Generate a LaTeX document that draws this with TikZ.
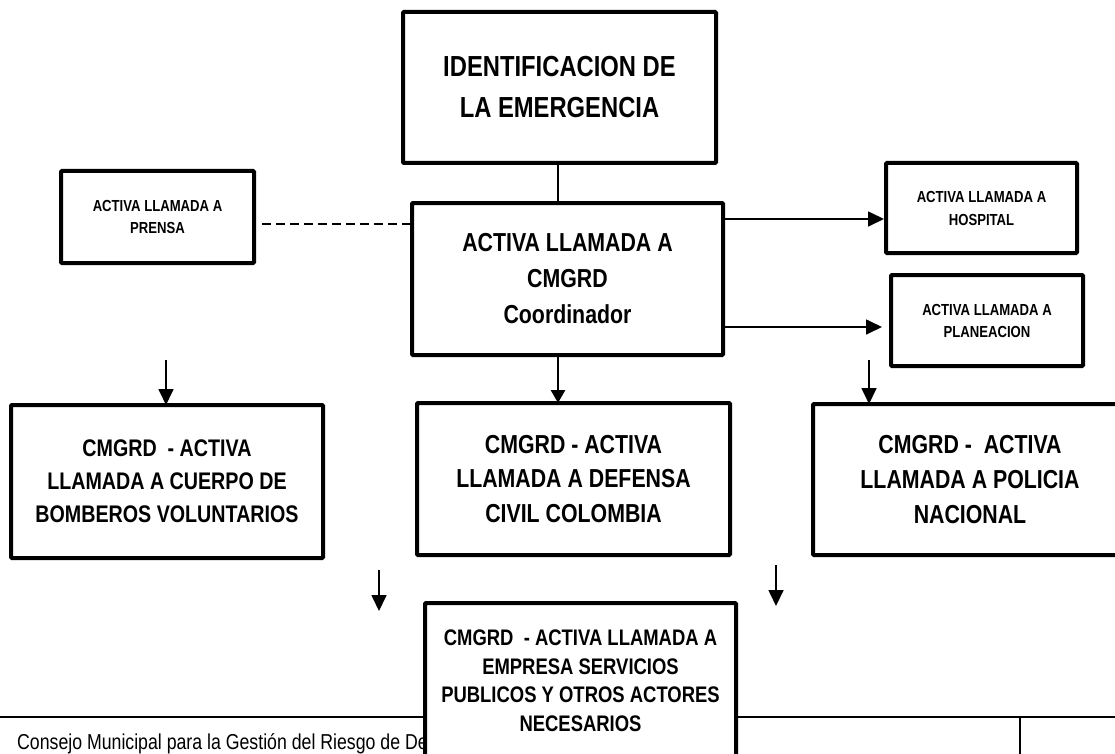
\documentclass[tikz,border=0pt]{standalone}
\usepackage{fontspec}
\setmainfont{Liberation Sans}[FakeStretch=0.82]
\usetikzlibrary{arrows.meta}
\tikzset{
  box/.style={draw=black, line width=4pt, rounded corners=1pt, fill=white, inner sep=0pt, outer sep=0pt, align=center, font=\bfseries},
  conn/.style={draw=black, line width=1.7pt},
  arr/.style={conn, -{Triangle[length=16pt,width=15pt]}},
  arrthick/.style={draw=black, line width=2.8pt, -{Triangle[length=13pt,width=14pt]}},
  dashline/.style={conn, dash pattern=on 9pt off 5pt},
  footline/.style={draw=black, line width=1.6pt}
}
\begin{document}
\begin{tikzpicture}[x=1pt,y=-1pt]
\useasboundingbox (0,0) rectangle (1115,754);
\fill[white] (0,0) rectangle (1115,754);
\clip (0,0) rectangle (1115,754);

% footer
\node[anchor=base west, inner sep=0pt, font=\fontsize{21.6}{24}\selectfont] (foot) at (17,749) {Consejo Municipal para la Gestión del Riesgo de De};
\draw[footline] (0,717) coordinate (fl) -- (1115,717) coordinate (fr);
\coordinate (fv) at (1020,717);
\draw[footline] (fv) -- (fv |- 0,760);

% boxes
\node[box, minimum width=313pt, minimum height=151pt, font=\bfseries\fontsize{29}{41}\selectfont] (ident) at (559.5,87.5) {IDENTIFICACION DE\\LA EMERGENCIA};
\node[box, minimum width=311pt, minimum height=152pt, font=\bfseries\fontsize{26}{36}\selectfont] (coord) at (567.5,279) {ACTIVA LLAMADA A\\CMGRD\\Coordinador};
\node[box, minimum width=193pt, minimum height=92pt, font=\bfseries\fontsize{16}{22}\selectfont] (prensa) at (157.5,217) {ACTIVA LLAMADA A\\PRENSA};
\node[box, minimum width=191pt, minimum height=90pt, font=\bfseries\fontsize{16}{23}\selectfont] (hospital) at (981.5,208) {ACTIVA LLAMADA A\\HOSPITAL};
\node[box, minimum width=192pt, minimum height=91pt, font=\bfseries\fontsize{16}{22}\selectfont] (planeacion) at (987,320.5) {ACTIVA LLAMADA A\\PLANEACION};
\node[box, minimum width=312pt, minimum height=153pt, font=\bfseries\fontsize{24}{33}\selectfont] (bomberos) at (167,481.5) {CMGRD\ \ - ACTIVA\\LLAMADA A CUERPO DE\\BOMBEROS VOLUNTARIOS};
\node[box, minimum width=313pt, minimum height=152pt, font=\bfseries\fontsize{26}{34.5}\selectfont] (defensa) at (573.5,479) {CMGRD - ACTIVA\\LLAMADA A DEFENSA\\CIVIL COLOMBIA};
\node[box, minimum width=314pt, minimum height=151pt, font=\bfseries\fontsize{26}{35}\selectfont] (policia) at (970,479.5) {CMGRD -\ \ ACTIVA\\LLAMADA A POLICIA\\NACIONAL};
\node[box, minimum width=311pt, minimum height=155pt, font=\bfseries\fontsize{22.5}{28.5}\selectfont] (empresa) at (580.5,680.5) {CMGRD\ \ - ACTIVA LLAMADA A\\EMPRESA SERVICIOS\\PUBLICOS Y OTROS ACTORES\\NECESARIOS};

% connectors
\draw[conn] ([xshift=-1.5pt]ident.south) -- ([xshift=-1.5pt]ident.south |- coord.north);
\draw[dashline] ([xshift=8pt,yshift=-7pt]prensa.east) -- ([yshift=-7pt]prensa.east -| coord.west);
\draw[arr, shorten >=2pt] ([yshift=-11pt]hospital.west -| coord.east) -- ([yshift=-11pt]hospital.west);
\draw[arr, shorten >=9pt] ([yshift=-6.5pt]planeacion.west -| coord.east) -- ([yshift=-6.5pt]planeacion.west);
\draw[arrthick] ([xshift=-9.5pt]coord.south) -- ([xshift=-9.5pt]coord.south |- defensa.north);

\coordinate (la) at (166,360);
\draw[arr] (la) -- (la |- bomberos.north);
\coordinate (ra) at (869,360);
\draw[arr] (ra) -- (ra |- policia.north);
\coordinate (lb1) at (379,570);
\coordinate (lb2) at (379,611);
\draw[arr] (lb1) -- (lb2);
\coordinate (rb1) at (776,565);
\coordinate (rb2) at (776,606);
\draw[arr] (rb1) -- (rb2);
\end{tikzpicture}
\end{document}
